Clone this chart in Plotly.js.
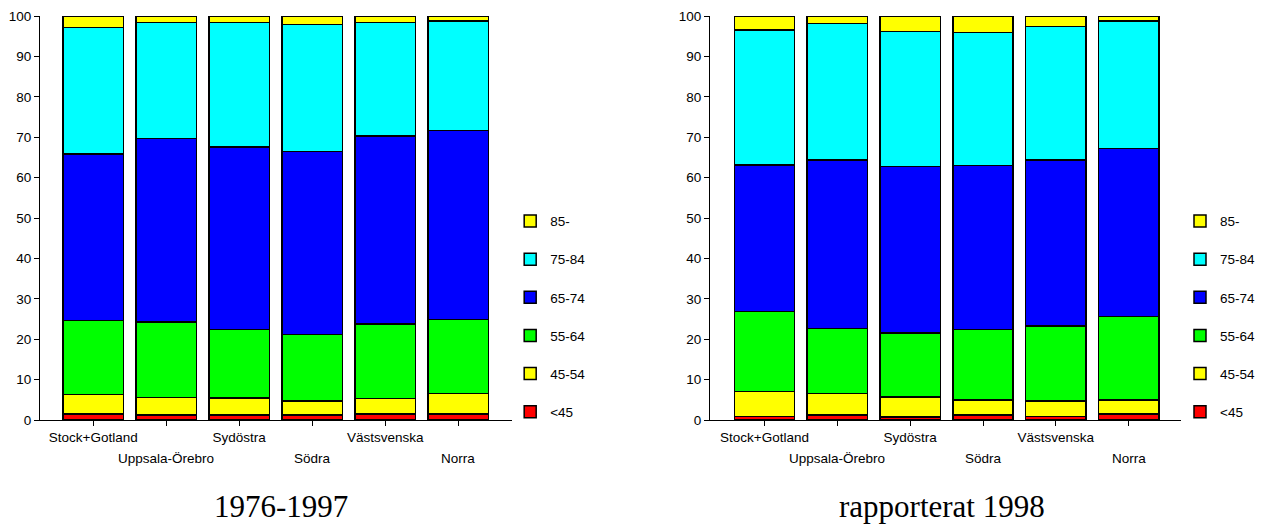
<!DOCTYPE html>
<html>
<head>
<meta charset="utf-8">
<script src="https://cdn.plot.ly/plotly-3.0.1.min.js"></script>
<style>
  html, body { margin: 0; padding: 0; background: #ffffff; }
  #chart { width: 1261px; height: 526px; }
</style>
</head>
<body>
<div id="chart"></div>
<script>
// ---- Data ----
const categories = ['Stock+Gotland', 'Uppsala-Örebro', 'Sydöstra', 'Södra', 'Västsvenska', 'Norra'];
const ageGroups = ['<45', '45-54', '55-64', '65-74', '75-84', '85-'];
const groupColors = ['#FF0000', '#FFFF00', '#00FF00', '#0000FF', '#00FFFF', '#FFFF00'];
const yTicks = [0, 10, 20, 30, 40, 50, 60, 70, 80, 90, 100];
const panelTitles = ['1976-1997', 'rapporterat 1998'];

// 1976-1997 (percent per age group, per region)
const p1_lt45  = [1.5, 1.2, 1.2, 1.2, 1.5, 1.5];
const p1_45_54 = [4.8, 4.4, 4.2, 3.5, 3.8, 5.0];
const p1_55_64 = [18.3, 18.7, 17.0, 16.5, 18.5, 18.4];
const p1_65_74 = [41.2, 45.4, 45.2, 45.3, 46.5, 46.7];
const p1_75_84 = [31.3, 28.7, 30.8, 31.4, 28.1, 27.2];
const p1_85    = [2.9, 1.6, 1.6, 2.1, 1.6, 1.2];

// rapporterat 1998
const p2_lt45  = [0.9, 1.2, 0.7, 1.2, 0.9, 1.5];
const p2_45_54 = [6.1, 5.4, 5.0, 3.8, 3.8, 3.5];
const p2_55_64 = [19.8, 16.1, 15.8, 17.4, 18.6, 20.6];
const p2_65_74 = [36.3, 41.6, 41.2, 40.6, 41.0, 41.6];
const p2_75_84 = [33.4, 33.9, 33.5, 32.9, 33.1, 31.6];
const p2_85    = [3.5, 1.8, 3.8, 4.1, 2.6, 1.2];

const panel1 = [p1_lt45, p1_45_54, p1_55_64, p1_65_74, p1_75_84, p1_85];
const panel2 = [p2_lt45, p2_45_54, p2_55_64, p2_65_74, p2_75_84, p2_85];

// ---- Layout geometry (pixels) ----
const W = 1261, H = 526;
const px = v => v / W;
const py = v => (H - v) / H;

const sans = 'Liberation Sans, Arial, Helvetica, sans-serif';
const serif = 'Liberation Serif, Times New Roman, serif';

const traces = [];
function addPanel(data, xa, ya, legendName) {
  data.forEach((vals, i) => {
    traces.push({
      type: 'bar',
      x: categories,
      y: vals,
      name: ageGroups[i],
      xaxis: xa,
      yaxis: ya,
      legend: legendName,
      legendgroup: legendName + '_' + i,
      legendrank: (data.length - i) * 100,
      marker: { color: groupColors[i], line: { color: '#000000', width: 1.5 } },
      cliponaxis: false,
      hoverinfo: 'name+y'
    });
  });
}
addPanel(panel1, 'x', 'y', 'legend');
addPanel(panel2, 'x2', 'y2', 'legend2');

function xAxis(domain, range, anchor) {
  return {
    domain: domain,
    anchor: anchor,
    type: 'category',
    range: range,
    tickmode: 'array',
    tickvals: categories,
    ticktext: categories.map((c, i) => (i % 2 === 0 ? c : '')),
    ticks: 'outside',
    ticklen: 5,
    tickwidth: 1,
    tickcolor: '#000',
    showline: true,
    linecolor: '#000',
    linewidth: 1,
    showgrid: false,
    zeroline: false,
    tickfont: { family: sans, size: 13.5, color: '#000' },
    fixedrange: true
  };
}
function yAxis(anchor) {
  return {
    domain: [py(420), py(16)],
    anchor: anchor,
    range: [0, 100],
    tickmode: 'array',
    tickvals: yTicks,
    ticktext: yTicks.map(String),
    ticks: 'outside',
    ticklen: 5,
    tickwidth: 1,
    tickcolor: '#000',
    showline: true,
    linecolor: '#000',
    linewidth: 1,
    showgrid: false,
    zeroline: false,
    tickfont: { family: sans, size: 13.5, color: '#000' },
    fixedrange: true
  };
}

const annotations = [];
// second row of region labels (odd categories)
categories.forEach((c, i) => {
  if (i % 2 === 1) {
    ['x', 'x2'].forEach(xr => {
      annotations.push({
        text: c, x: c, xref: xr, y: py(458), yref: 'paper',
        xanchor: 'center', yanchor: 'middle', showarrow: false,
        font: { family: sans, size: 13.5, color: '#000' }
      });
    });
  }
});
// panel titles
annotations.push({
  text: panelTitles[0], x: px(281), y: 0, xref: 'paper', yref: 'paper',
  xanchor: 'center', yanchor: 'bottom', showarrow: false,
  font: { family: serif, size: 31, color: '#000' }
});
annotations.push({
  text: panelTitles[1], x: px(943), y: 0, xref: 'paper', yref: 'paper',
  xanchor: 'center', yanchor: 'bottom', showarrow: false,
  font: { family: serif, size: 31, color: '#000' }
});

function legendDef(xpx) {
  return {
    x: px(xpx), xanchor: 'left',
    y: py(205.7), yanchor: 'top',
    traceorder: 'grouped',
    tracegroupgap: 17.6,
    bgcolor: 'rgba(0,0,0,0)',
    borderwidth: 0,
    font: { family: sans, size: 13.5, color: '#000' }
  };
}

const layout = {
  width: W, height: H,
  margin: { l: 0, r: 0, t: 0, b: 0 },
  paper_bgcolor: '#ffffff',
  plot_bgcolor: '#ffffff',
  barmode: 'stack',
  bargap: 0.17,
  showlegend: true,
  xaxis: xAxis([px(40), px(513)], [-0.73, 5.74], 'y'),
  yaxis: yAxis('x'),
  xaxis2: xAxis([px(711), px(1183)], [-0.75, 5.72], 'y2'),
  yaxis2: yAxis('x2'),
  legend: legendDef(511),
  legend2: legendDef(1182),
  annotations: annotations
};

Plotly.newPlot('chart', traces, layout, { displayModeBar: false, staticPlot: true });
</script>
</body>
</html>
